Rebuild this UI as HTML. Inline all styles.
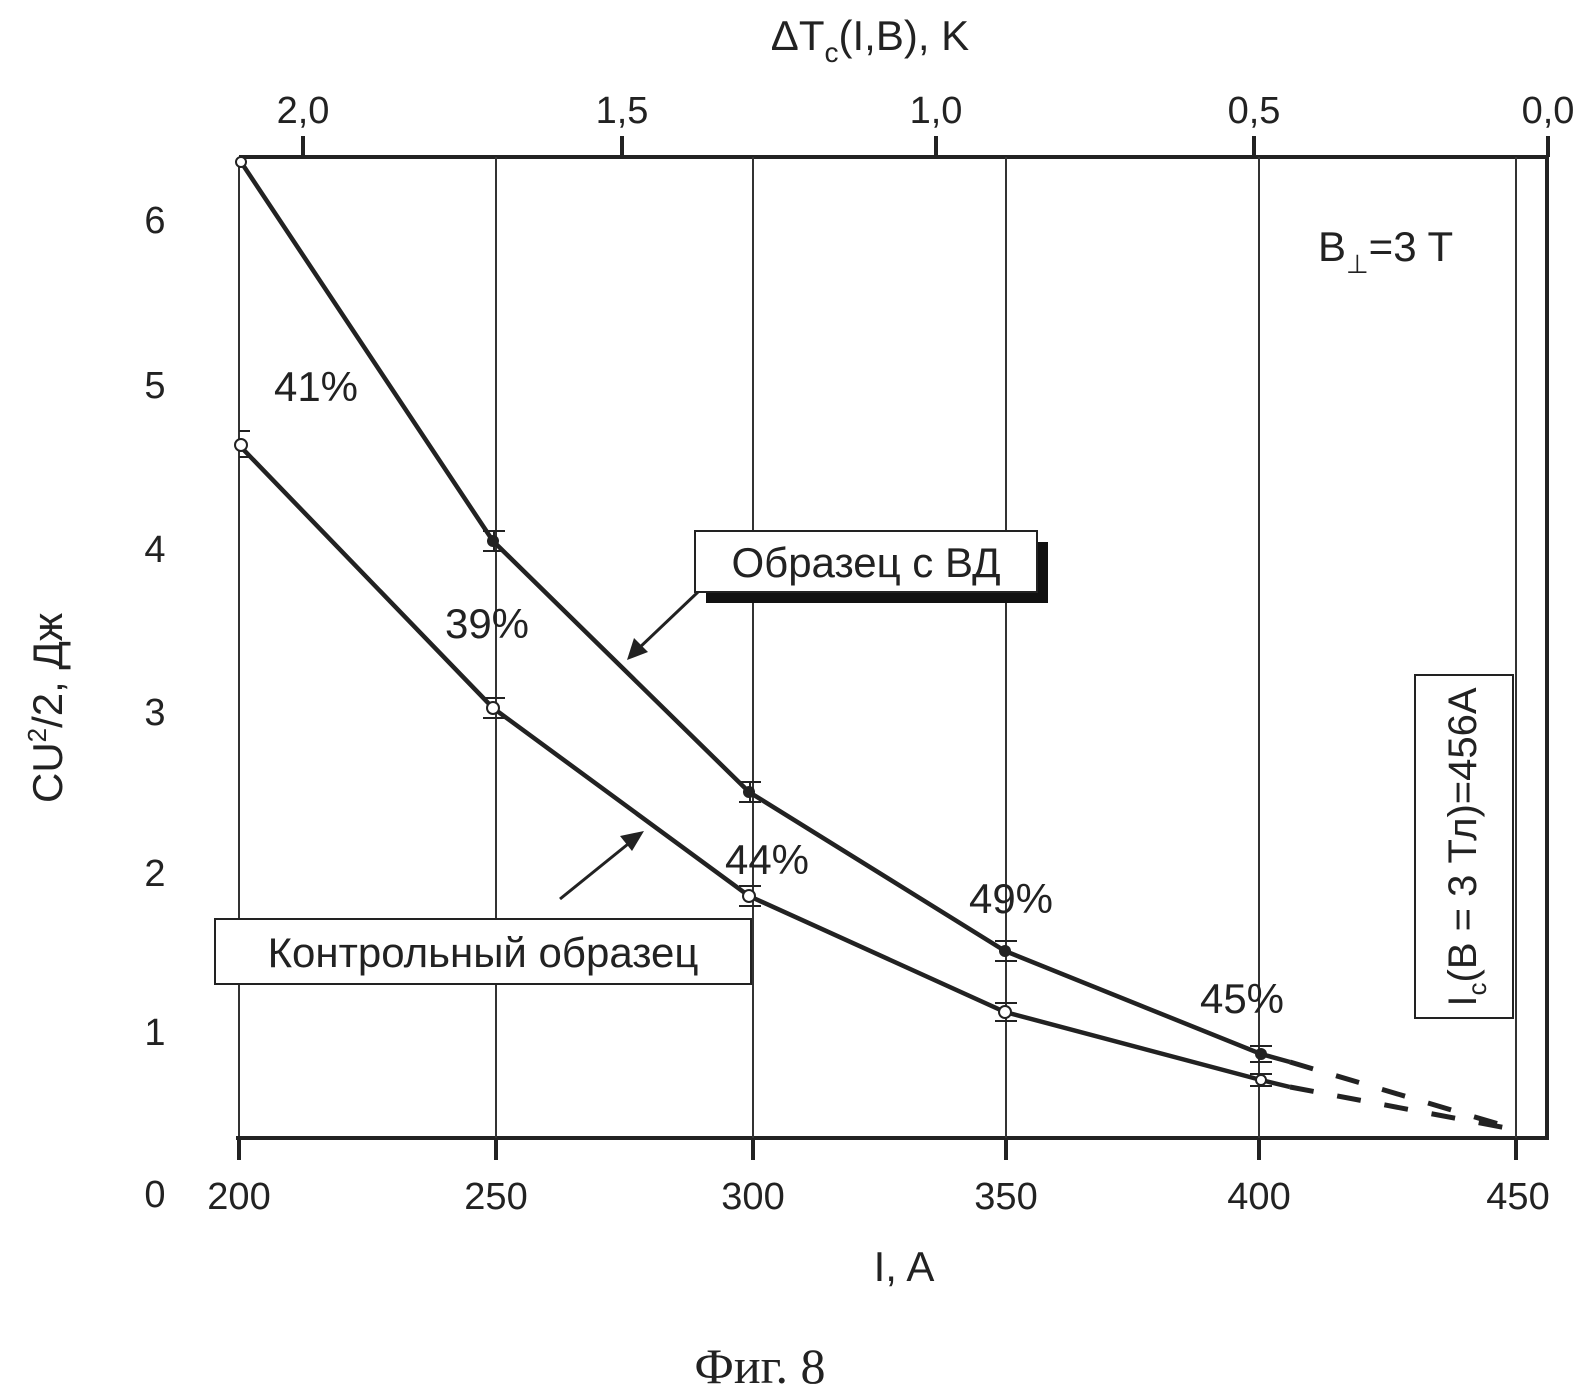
<!DOCTYPE html>
<html><head><meta charset="utf-8"><style>
html,body{margin:0;padding:0;background:#fff;}
svg{display:block;}
text{font-family:"Liberation Sans",sans-serif;fill:#222;}
</style></head><body>
<svg width="1587" height="1393" viewBox="0 0 1587 1393" xmlns="http://www.w3.org/2000/svg">
<line x1="239" y1="157" x2="1547" y2="157" stroke="#222" stroke-width="4"/>
<line x1="239" y1="157" x2="239" y2="1138" stroke="#333" stroke-width="2"/>
<line x1="1547" y1="157" x2="1547" y2="1140" stroke="#222" stroke-width="4"/>
<line x1="236" y1="1138" x2="1547" y2="1138" stroke="#222" stroke-width="4"/>
<g stroke="#333" stroke-width="2">
<line x1="496" y1="157" x2="496" y2="1138"/>
<line x1="753" y1="157" x2="753" y2="1138"/>
<line x1="1006" y1="157" x2="1006" y2="1138"/>
<line x1="1259" y1="157" x2="1259" y2="1138"/>
<line x1="1516" y1="157" x2="1516" y2="1138"/>
</g>
<g stroke="#222" stroke-width="4">
<line x1="239" y1="1138" x2="239" y2="1160"/>
<line x1="496" y1="1138" x2="496" y2="1160"/>
<line x1="753" y1="1138" x2="753" y2="1160"/>
<line x1="1006" y1="1138" x2="1006" y2="1160"/>
<line x1="1259" y1="1138" x2="1259" y2="1160"/>
<line x1="1516" y1="1138" x2="1516" y2="1160"/>
<line x1="303" y1="157" x2="303" y2="136"/>
<line x1="622" y1="157" x2="622" y2="136"/>
<line x1="936" y1="157" x2="936" y2="136"/>
<line x1="1254" y1="157" x2="1254" y2="136"/>
<line x1="1548" y1="157" x2="1548" y2="136"/>
</g>
<g font-size="38" text-anchor="middle">
<text x="239" y="1209">200</text>
<text x="496" y="1209">250</text>
<text x="753" y="1209">300</text>
<text x="1006" y="1209">350</text>
<text x="1259" y="1209">400</text>
<text x="1518" y="1209">450</text>
<text x="155" y="1207">0</text>
<text x="155" y="1045">1</text>
<text x="155" y="886">2</text>
<text x="155" y="725">3</text>
<text x="155" y="562">4</text>
<text x="155" y="398">5</text>
<text x="155" y="233">6</text>
<text x="303" y="123">2,0</text>
<text x="622" y="123">1,5</text>
<text x="936" y="123">1,0</text>
<text x="1254" y="123">0,5</text>
<text x="1548" y="123">0,0</text>
</g>
<text x="904" y="1281" font-size="42" text-anchor="middle">I, A</text>
<text x="760" y="1383" font-size="50" text-anchor="middle" style="font-family:'Liberation Serif',serif">Фиг. 8</text>
<text x="870" y="50" font-size="42" text-anchor="middle">ΔT<tspan font-size="28" dy="12">c</tspan><tspan dy="-12">(I,B), K</tspan></text>
<text transform="translate(62,708) rotate(-90)" font-size="42" text-anchor="middle">CU<tspan font-size="26" dy="-16">2</tspan><tspan dy="16">/2, Дж</tspan></text>
<g fill="none" stroke="#222" stroke-width="4.5">
<polyline points="241,162 493,541 749,792 1005,951 1261,1054 1290,1062"/>
<polyline points="239,445 493,708 749,896 1005,1012 1261,1080 1290,1087"/>
<polyline points="1290,1062 1512,1128" stroke-dasharray="24,24" stroke-width="5"/>
<polyline points="1290,1087 1512,1129" stroke-dasharray="24,24" stroke-width="5"/>
</g>
<g stroke="#222" stroke-width="2">
<line x1="483" y1="531" x2="505" y2="531"/><line x1="483" y1="551" x2="505" y2="551"/><line x1="494" y1="531" x2="494" y2="551"/>
<line x1="739" y1="782" x2="761" y2="782"/><line x1="739" y1="802" x2="761" y2="802"/><line x1="750" y1="782" x2="750" y2="802"/>
<line x1="995" y1="941" x2="1017" y2="941"/><line x1="995" y1="961" x2="1017" y2="961"/>
<line x1="1250" y1="1046" x2="1272" y2="1046"/><line x1="1250" y1="1062" x2="1272" y2="1062"/>
<line x1="483" y1="698" x2="505" y2="698"/><line x1="483" y1="718" x2="505" y2="718"/>
<line x1="739" y1="886" x2="761" y2="886"/><line x1="739" y1="906" x2="761" y2="906"/>
<line x1="995" y1="1003" x2="1017" y2="1003"/><line x1="995" y1="1021" x2="1017" y2="1021"/>
<line x1="1250" y1="1074" x2="1272" y2="1074"/><line x1="1250" y1="1086" x2="1272" y2="1086"/>
<line x1="239" y1="431" x2="250" y2="431"/><line x1="239" y1="457" x2="250" y2="457"/>
</g>
<g fill="#222">
<circle cx="493" cy="541" r="6"/><circle cx="749" cy="792" r="6"/><circle cx="1005" cy="951" r="6"/><circle cx="1261" cy="1054" r="6"/>
</g>
<g fill="#fff" stroke="#222" stroke-width="2">
<circle cx="241" cy="162" r="5"/>
<circle cx="241" cy="445" r="6"/><circle cx="493" cy="708" r="6"/><circle cx="749" cy="896" r="6"/><circle cx="1005" cy="1012" r="6"/><circle cx="1261" cy="1080" r="5"/>
</g>
<g font-size="42" text-anchor="middle">
<text x="316" y="401">41%</text>
<text x="487" y="638">39%</text>
<text x="767" y="874">44%</text>
<text x="1011" y="913">49%</text>
<text x="1242" y="1013">45%</text>
</g>
<text x="1318" y="261" font-size="42">B<tspan font-size="26" dy="12">⊥</tspan><tspan dy="-12">=3 T</tspan></text>
<rect x="706" y="542" width="342" height="61" fill="#111"/>
<rect x="695" y="531" width="342" height="61" fill="#fff" stroke="#222" stroke-width="2"/>
<text x="866" y="577" font-size="42" text-anchor="middle">Образец с ВД</text>
<line x1="698" y1="592" x2="637" y2="650" stroke="#222" stroke-width="3"/>
<polygon points="627,660 634,638 648,652" fill="#222"/>
<rect x="215" y="919" width="536" height="65" fill="#fff" stroke="#222" stroke-width="2"/>
<text x="483" y="967" font-size="42" text-anchor="middle">Контрольный образец</text>
<line x1="560" y1="899" x2="633" y2="840" stroke="#222" stroke-width="3"/>
<polygon points="644,831 632,851 620,836" fill="#222"/>
<rect x="1415" y="675" width="98" height="343" fill="#fff" stroke="#222" stroke-width="2"/>
<text transform="translate(1476,847) rotate(-90)" font-size="40" text-anchor="middle">I<tspan font-size="26" dy="10">c</tspan><tspan dy="-10">(B = 3 Тл)=456А</tspan></text>
</svg>
</body></html>
